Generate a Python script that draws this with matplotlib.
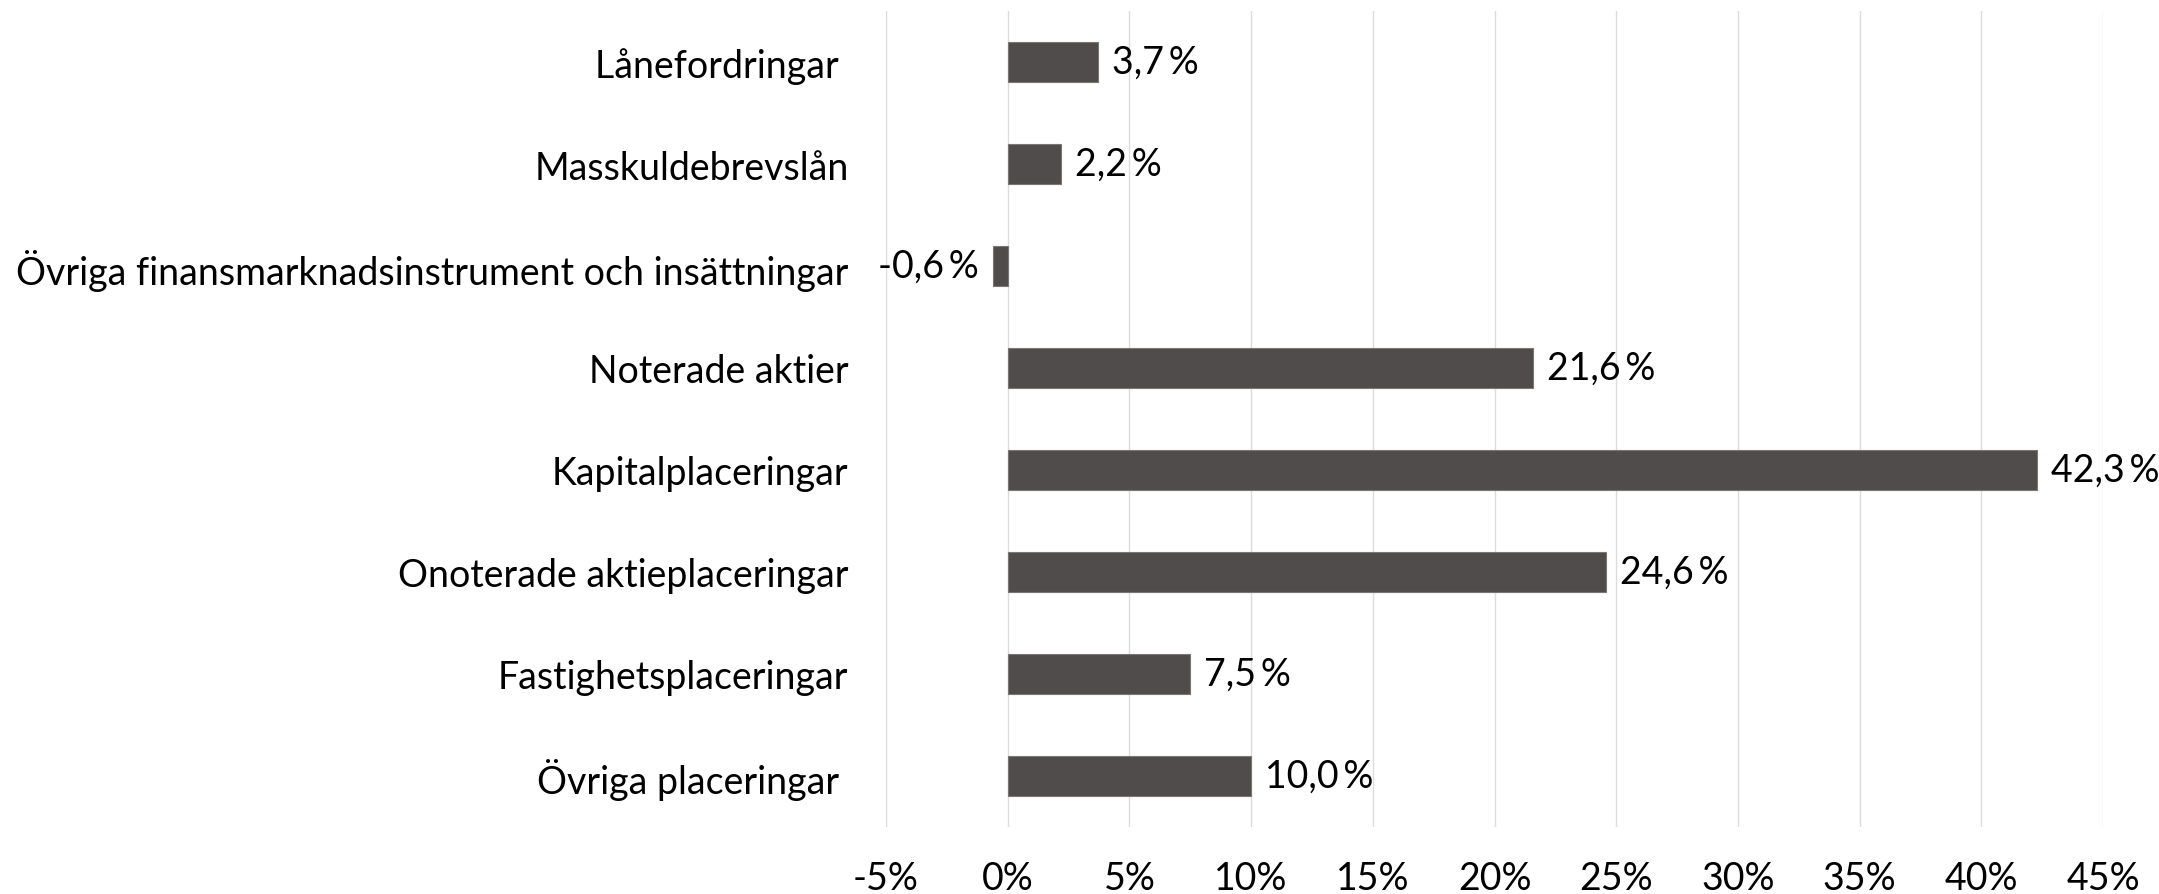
import matplotlib
matplotlib.use("Agg")
import matplotlib.pyplot as plt
from matplotlib.ticker import FixedLocator
from matplotlib.transforms import offset_copy

categories = [
    "Lånefordringar ",
    "Masskuldebrevslån",
    "Övriga finansmarknadsinstrument och insättningar",
    "Noterade aktier",
    "Kapitalplaceringar",
    "Onoterade aktieplaceringar",
    "Fastighetsplaceringar",
    "Övriga placeringar ",
]
values = [3.7, 2.2, -0.6, 21.6, 42.3, 24.6, 7.5, 10.0]
xticks = [-5, 0, 5, 10, 15, 20, 25, 30, 35, 40, 45]
xtick_labels = [f"{t}%" for t in xticks]

plt.rcParams["font.family"] = ["Lato", "DejaVu Sans"]
FS = 27

fig = plt.figure(figsize=(21.59, 8.95), dpi=100)
ax = fig.add_axes([886 / 2159, 1 - 828 / 895, (2103 - 886) / 2159, (828 - 12) / 895])

y = list(range(len(categories)))
ax.barh(y, values, height=0.39, color="#504C4B", edgecolor="#7a7676", linewidth=0.8, zorder=3)

ax.set_xlim(-5, 45)
ax.set_ylim(len(categories) - 0.5, -0.5)
ax.xaxis.set_major_locator(FixedLocator(xticks))
ax.set_xticklabels(xtick_labels, fontsize=FS, color="#000000")
ax.set_yticks(y)
ax.set_yticklabels(categories, fontsize=FS, color="#000000")
ax.tick_params(axis="both", length=0)
ax.tick_params(axis="y", pad=27)
ax.tick_params(axis="x", pad=24)
ax.grid(axis="x", color="#DCDCDC", linewidth=1.0, zorder=0)
for s in ax.spines.values():
    s.set_visible(False)

for yi, v in zip(y, values):
    label = f"{v:.1f}".replace(".", ",") + "\u2009%"
    if v >= 0:
        tr = offset_copy(ax.transData, fig=fig, x=10, y=0, units="points")
        ax.text(v, yi, label, transform=tr, ha="left", va="center", fontsize=FS, color="#000000")
    else:
        tr = offset_copy(ax.transData, fig=fig, x=-10, y=0, units="points")
        ax.text(v, yi, label, transform=tr, ha="right", va="center", fontsize=FS, color="#000000")

fig.savefig("out.png", dpi=100, facecolor="white")
